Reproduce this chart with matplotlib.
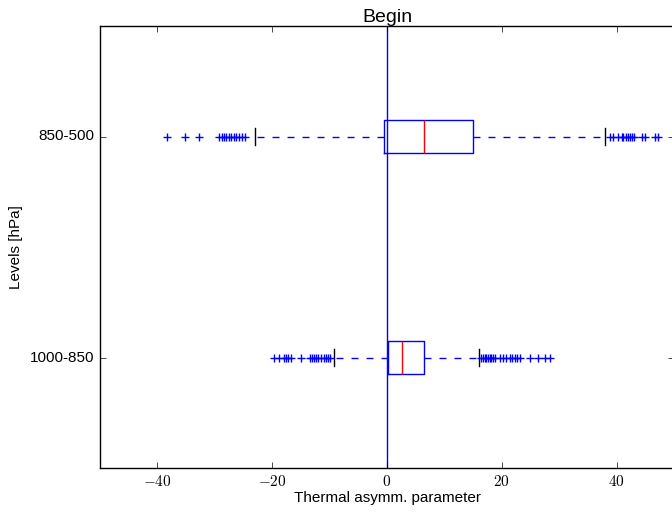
import matplotlib
matplotlib.use('Agg')
import matplotlib.pyplot as plt
from matplotlib.ticker import FuncFormatter

plt.style.use('classic')
plt.rcParams['font.family'] = ['Liberation Sans', 'DejaVu Sans']
plt.rcParams['mathtext.fontset'] = 'cm'

# levels (bottom to top)
levels = ['1000-850', '850-500']

# box statistics
medians = [2.7, 6.5]
q1s = [0.1, -0.6]
q3s = [6.5, 14.9]
whis_lo = [-9.3, -23.0]
whis_hi = [16.1, 38.0]

fliers_low = [
    [-19.6, -18.9, -18.0, -17.6, -17.2, -16.7, -14.9, -13.5, -13.1, -12.8,
     -12.4, -12.0, -11.5, -11.0, -10.6, -10.2, -9.9],
    [-38.4, -35.2, -32.8, -29.2, -28.8, -28.4, -28.0, -27.6, -27.1, -26.7,
     -26.3, -25.7, -25.2, -24.7],
]
fliers_high = [
    [16.4, 16.7, 17.0, 17.3, 17.6, 17.9, 18.2, 18.5, 18.9, 19.6, 20.2, 20.8,
     21.4, 21.8, 22.3, 22.7, 23.1, 24.9, 26.3, 27.5, 28.4],
    [38.8, 39.4, 40.3, 40.9, 41.2, 41.6, 42.0, 42.3, 42.7, 43.0, 44.4, 45.0,
     46.7, 47.2],
]

stats = []
for i in range(len(levels)):
    stats.append({
        'med': medians[i], 'q1': q1s[i], 'q3': q3s[i],
        'whislo': whis_lo[i], 'whishi': whis_hi[i],
        'fliers': fliers_low[i] + fliers_high[i],
        'label': levels[i],
    })

fig = plt.figure(figsize=(6.72, 5.12), dpi=100)
fig.patch.set_facecolor('white')
ax = fig.add_axes([100 / 672, 44 / 512, 574 / 672, 442 / 512])

ax.bxp(stats, vert=False, widths=0.15,
       boxprops=dict(color='b', linewidth=1),
       whiskerprops=dict(color='b', linestyle=(0, (5, 5.8)), linewidth=1),
       capprops=dict(color='k', linewidth=1),
       medianprops=dict(color='r', linewidth=1),
       flierprops=dict(marker='+', markeredgecolor='b', markersize=6,
                       linestyle='none'))

ax.axvline(0, color='b', linewidth=1)

ax.set_xlim(-50, 50)
ax.set_ylim(0.5, 2.5)
ax.set_xticks([-40, -20, 0, 20, 40])
ax.xaxis.set_major_formatter(FuncFormatter(lambda v, p: r'$%d$' % v))
ax.set_yticks([1, 2])
ax.set_yticklabels(levels)
ax.tick_params(labelsize=11)

ax.set_title('Begin', fontsize=14, y=1.0, pad=3)
ax.set_xlabel('Thermal asymm. parameter', fontsize=11, labelpad=2)
ax.set_ylabel('Levels [hPa]', fontsize=11)

fig.savefig('out.png', dpi=100, facecolor='white')
